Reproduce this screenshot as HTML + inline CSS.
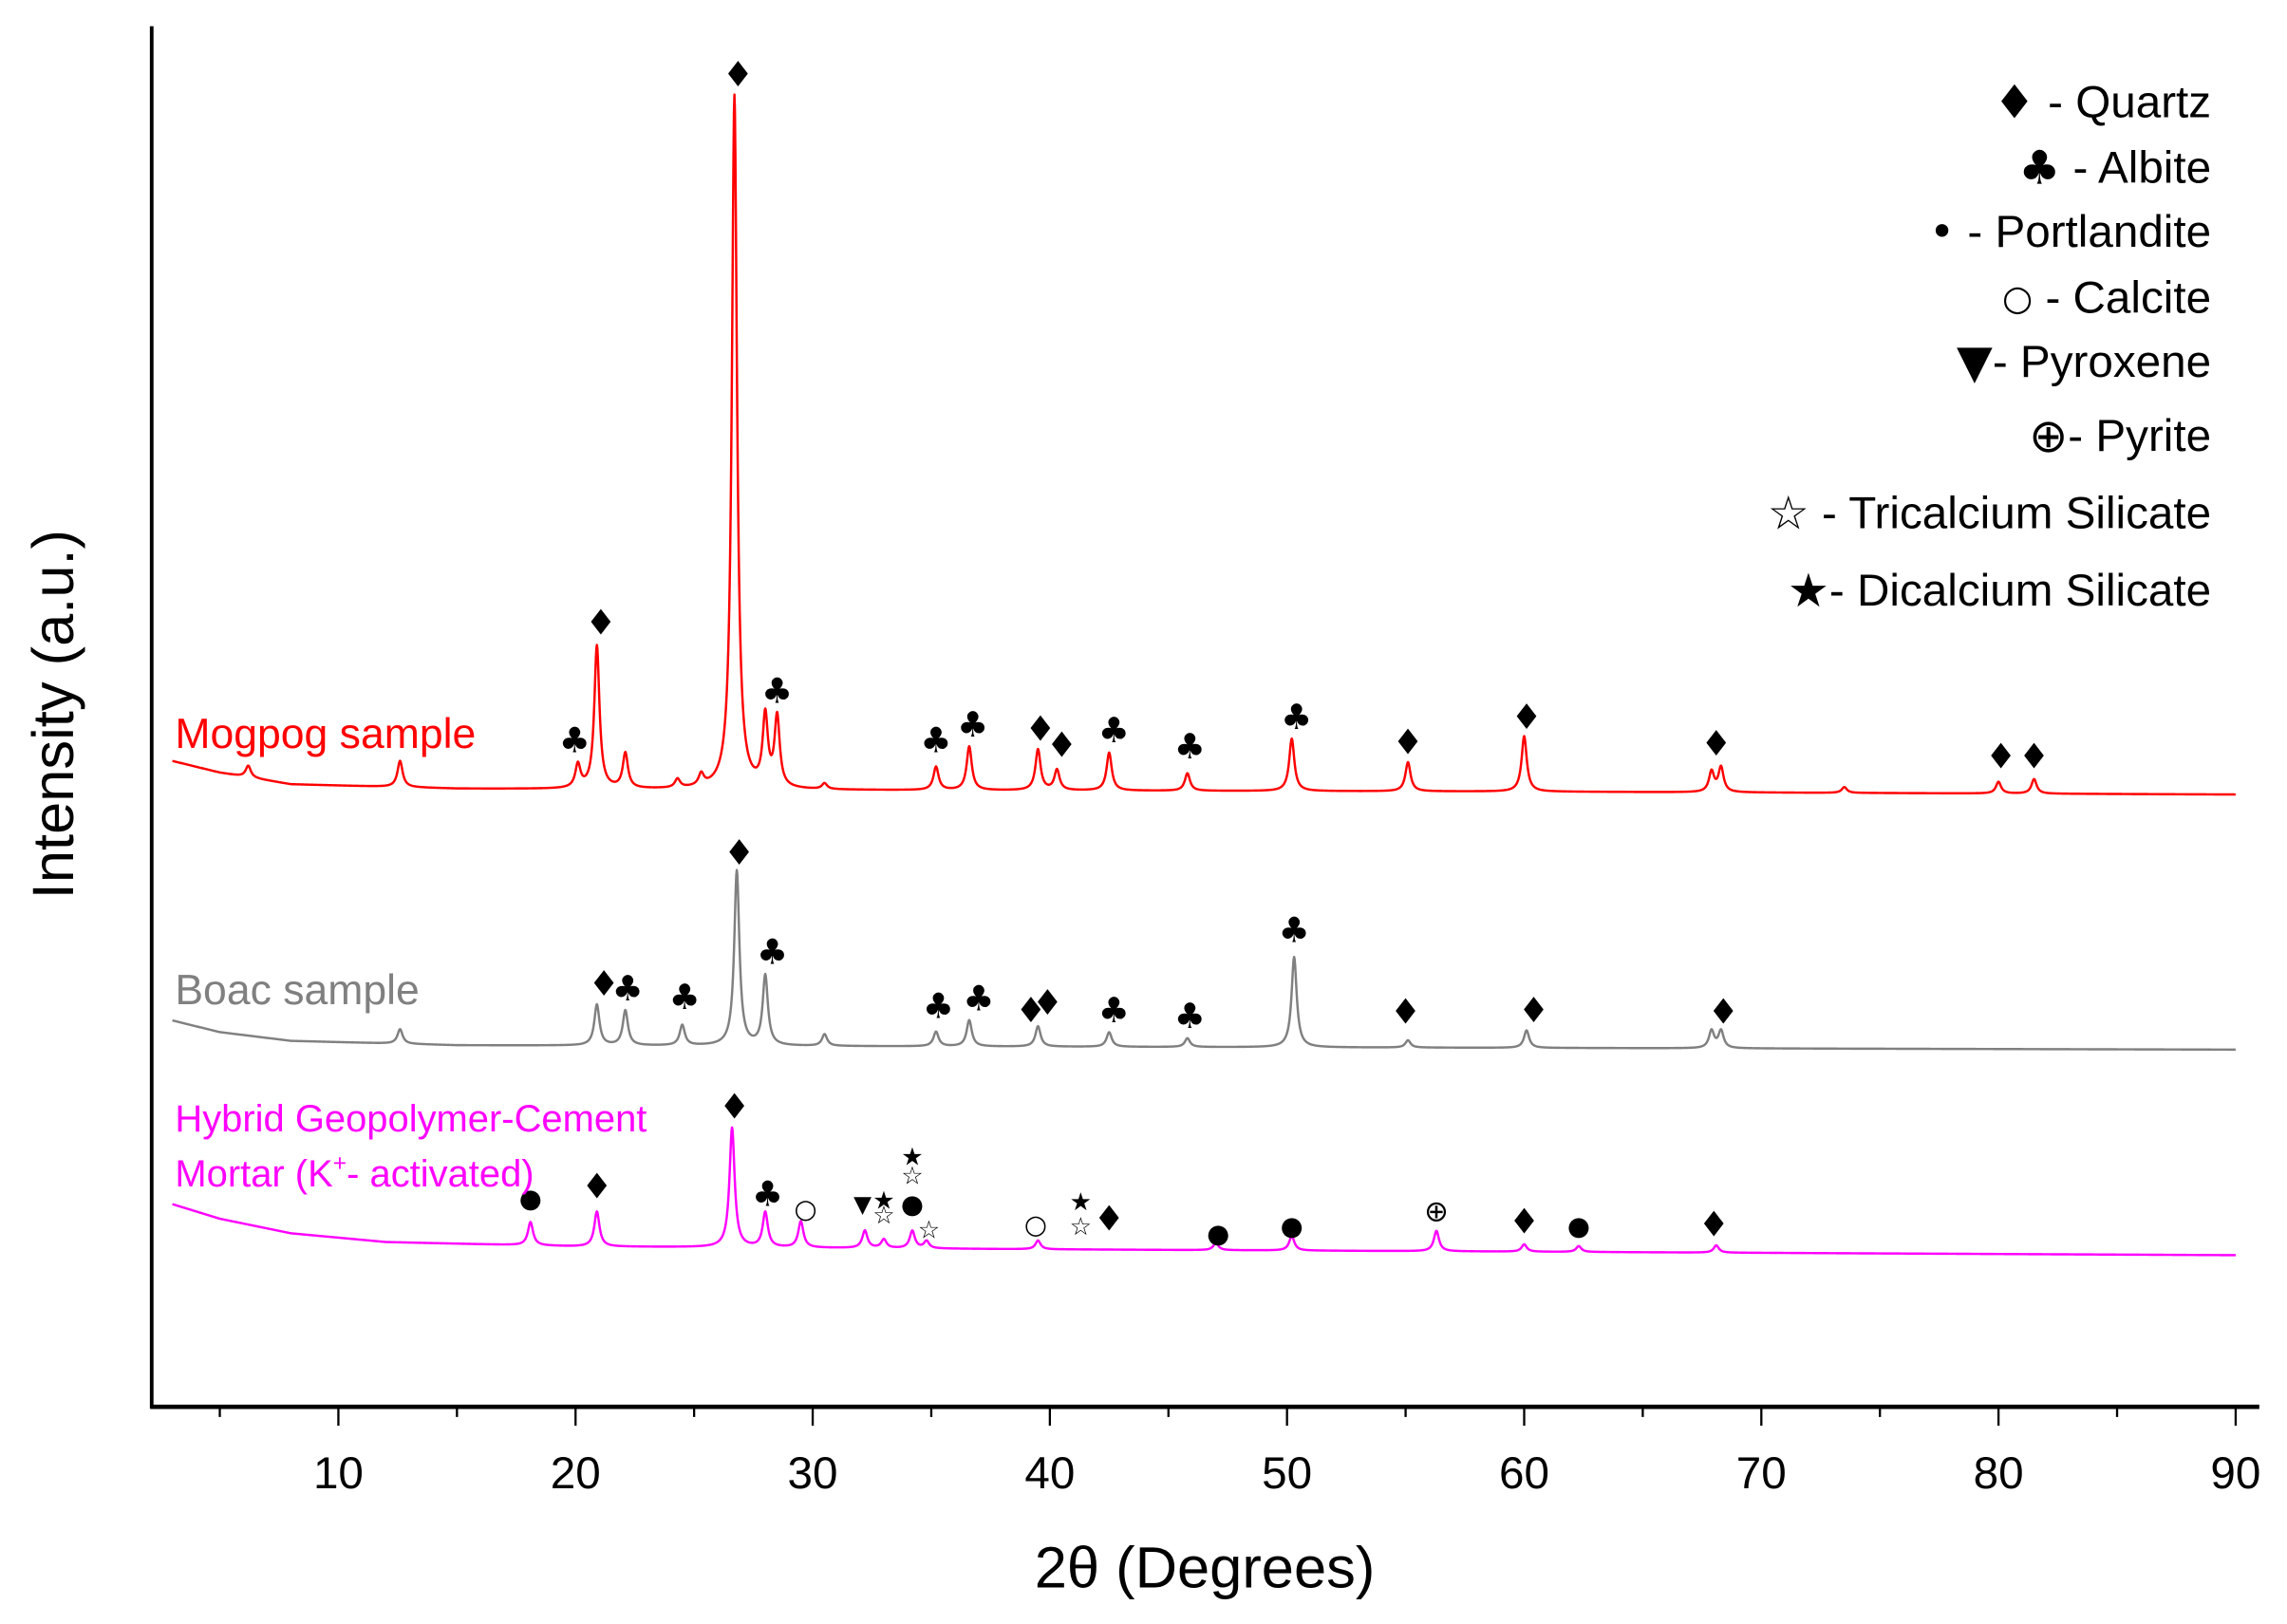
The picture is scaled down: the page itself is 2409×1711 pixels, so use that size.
<!DOCTYPE html>
<html><head><meta charset="utf-8"><style>
html,body{margin:0;padding:0;background:#fff;}
svg{display:block;}
text{font-family:"Liberation Sans","DejaVu Sans",sans-serif;}
.sym{font-family:"DejaVu Sans","Liberation Sans",sans-serif;}
</style></head><body>
<svg id="chart" xmlns="http://www.w3.org/2000/svg" width="2409" height="1711" viewBox="0 0 1568 1114" preserveAspectRatio="none">
<g id="axes"></g>
<g id="series"></g>
<g id="markers"></g>
<g id="legend"></g>
<text x="0" y="0" font-size="40" text-anchor="middle" transform="translate(50,490) rotate(-90)">Intensity (a.u.)</text>
<text x="826" y="1089" font-size="40" text-anchor="middle">2θ (Degrees)</text>
<text x="120" y="513" font-size="29" fill="#ff0000">Mogpog sample</text>
<text x="120" y="689" font-size="29" fill="#808080">Boac sample</text>
<text x="120" y="776" font-size="26" fill="#ff00ff">Hybrid Geopolymer-Cement</text>
<text x="120" y="814" font-size="26" fill="#ff00ff">Mortar (K<tspan font-size="16" dy="-11">+</tspan><tspan dy="11">- activated)</tspan></text>
</svg>
<script>
// ---- data ----
const xTicks = [10,20,30,40,50,60,70,80,90];
const xMinorTicks = [5,15,25,35,45,55,65,75,85];
const redBgAngles = [3,5,8,15,30,60,90];
const redBgValues = [26,18,10,7,6,5,3];
const grayBgAngles = [3,5,8,15,40,90];
const grayBgValues = [22,14,8,5,4,2];
const magBgAngles = [3,5,8,12,20,40,90];
const magBgValues = [38,28,18,12,9,7,3];
const redPeakAngles = [6.2,12.6,20.1,20.9,22.1,24.3,25.3,26.7,28.0,28.5,30.5,35.2,36.6,39.5,40.3,42.5,45.8,50.2,55.1,60.0,67.9,68.3,73.5,80.0,81.5];
const redPeakValues = [8,18,16,98,24,6,8,476,48,48,4,16,30,28,14,26,12,36,20,38,14,17,4,8,10];
const grayPeakAngles = [12.6,20.9,22.1,24.5,26.8,28.0,30.5,35.2,36.6,39.5,42.5,45.8,50.3,55.1,60.1,67.9,68.3];
const grayPeakValues = [10,28,24,14,120,48,8,10,18,14,10,6,62,5,12,12,12];
const magPeakAngles = [18.1,20.9,26.6,28.0,29.5,32.2,33.0,34.2,34.8,39.5,47.0,50.2,56.3,60.0,62.3,68.1];
const magPeakValues = [16,24,82,24,18,12,6,12,5,6,5,10,14,5,4,5];
const redMarkAngles = [19.96,21.07,26.85,28.5,35.2,36.75,39.6,40.5,42.7,45.9,50.4,55.1,60.1,68.1,80.1,81.5];
const redMarkLevels = [40,121,497,74,40,51,48,37,47,36,56,39,56,38,29,29];
const redMarkSyms = ['♣','♦','♦','♣','♣','♣','♦','♦','♣','♣','♣','♦','♦','♦','♦','♦'];
const grayMarkAngles = [26.9,28.3,21.2,22.2,24.6,35.3,37.0,39.2,39.9,42.7,45.9,50.3,55.0,60.4,68.4];
const grayMarkLevels = [137,69,47,44,38,32,37,29,34,29,25,84,28,29,28];
const grayMarkSyms = ['♦','♣','♦','♣','♣','♣','♣','♦','♦','♣','♣','♣','♦','♦','♦'];
const magMarkAngles = [18.1,20.9,26.7,28.1,29.7,32.1,33.0,33.0,34.2,34.2,34.2,34.9,39.4,41.3,41.3,42.5,47.1,50.2,56.3,60.0,62.3,68.0];
const magMarkLevels = [42,50,105,45,35,38,40,30,38,70,57,20,24,39,22,28,18,23,33,26,23,24];
const magMarkSyms = ['●','♦','♦','♣','○','▼','★','☆','●','★','☆','☆','○','★','☆','♦','●','●','⊕','♦','●','♦'];
const legendSymbols = ['♦','♣','•','○','▼','⊕','☆','★'];
const legendNames = ['Quartz','Albite','Portlandite','Calcite','Pyroxene','Pyrite','Tricalcium Silicate','Dicalcium Silicate'];
const legendSeps = [' - ',' - ',' - ',' - ','- ','- ',' - ','- '];

// ---- scales ----
const X0 = 69.4, XK = 16.26;
function xScale(d){ return X0 + d*XK; }
const redZero = 548, grayZero = 722, magZero = 864;
function yScale(zero, v){ return zero - v; }

const NS = 'http://www.w3.org/2000/svg';
function mk(tag, attrs, parent){ const e = document.createElementNS(NS, tag); for (const k in attrs) e.setAttribute(k, attrs[k]); parent.appendChild(e); return e; }

const ax = document.getElementById('axes');
let l = mk('line', {x1:104,y1:18,x2:104,y2:966,stroke:'#000','stroke-width':2.5}, ax);


l = mk('line', {x1:103,y1:965,x2:1549,y2:965,stroke:'#000','stroke-width':3}, ax);


xTicks.forEach(t => {
  const x = xScale(t);
  const tk = mk('line', {x1:x,y1:965,x2:x,y2:978,stroke:'#000','stroke-width':1.5}, ax);
  
  
  const tx = mk('text', {x:x,y:1021,'font-size':31,'text-anchor':'middle'}, ax);
  tx.textContent = t;
  
  
});
xMinorTicks.forEach(t => {
  const x = xScale(t);
  const tk = mk('line', {x1:x,y1:965,x2:x,y2:972,stroke:'#000','stroke-width':1.5}, ax);
  
  
});

function interp(xs, ys, x){
  if (x <= xs[0]) return ys[0];
  for (let i=1;i<xs.length;i++) if (x <= xs[i]) { const f=(x-xs[i-1])/(xs[i]-xs[i-1]); return ys[i-1]+f*(ys[i]-ys[i-1]); }
  return ys[ys.length-1];
}
function spectrum(bgA, bgV, pA, pV, zero, color, name){
  let d = '';
  const w = 0.13;
  for (let a=3; a<=90.001; a+=0.02){
    let v = interp(bgA, bgV, a);
    for (let i=0;i<pA.length;i++){ const u=(a-pA[i])/w; v += pV[i]/(1+u*u); }
    d += (d ? 'L' : 'M') + xScale(a).toFixed(2) + ',' + yScale(zero, v).toFixed(2);
  }
  const p = mk('path', {d:d, fill:'none', stroke:color, 'stroke-width':1.6, 'stroke-linejoin':'round'}, document.getElementById('series'));
  
  
}
spectrum(redBgAngles, redBgValues, redPeakAngles, redPeakValues, redZero, '#ff0000', 'mogpog-series');
spectrum(grayBgAngles, grayBgValues, grayPeakAngles, grayPeakValues, grayZero, '#808080', 'boac-series');
spectrum(magBgAngles, magBgValues, magPeakAngles, magPeakValues, magZero, '#ff00ff', 'hybrid-series');

function markers(A, L, S, zero){
  const g = document.getElementById('markers');
  A.forEach((a,i) => {
    const s = S[i];
    let fs = 24;
    if (s==='★'||s==='☆') fs = 17;
    if (s==='●'||s==='○') fs = 18;
    if (s==='▼') fs = 16;
    if (s==='⊕') fs = 20;
    const t = mk('text', {x:xScale(a), y:yScale(zero, L[i]), 'font-size':fs, 'text-anchor':'middle', 'dominant-baseline':'central', class:'sym'}, g);
    t.textContent = s;
    
    
  });
}
markers(redMarkAngles, redMarkLevels, redMarkSyms, redZero);
markers(grayMarkAngles, grayMarkLevels, grayMarkSyms, grayZero);
markers(magMarkAngles, magMarkLevels, magMarkSyms, magZero);

const lg = document.getElementById('legend');
const legY = [70,115,159,204,248,299,352,405];
legendNames.forEach((n,i) => {
  const t = mk('text', {x:1516, y:legY[i], 'font-size':31, 'text-anchor':'end', 'dominant-baseline':'central'}, lg);
  const s = document.createElementNS(NS,'tspan');
  s.setAttribute('class','sym');
  const sy = legendSymbols[i];
  s.setAttribute('font-size', sy==='•' ? 30 : sy==='○' ? 24 : sy==='▼' ? 32 : 32);
  s.textContent = sy;
  t.appendChild(s);
  const r = document.createElementNS(NS,'tspan');
  r.textContent = legendSeps[i] + n;
  t.appendChild(r);
  
  
});
</script>
</body></html>
